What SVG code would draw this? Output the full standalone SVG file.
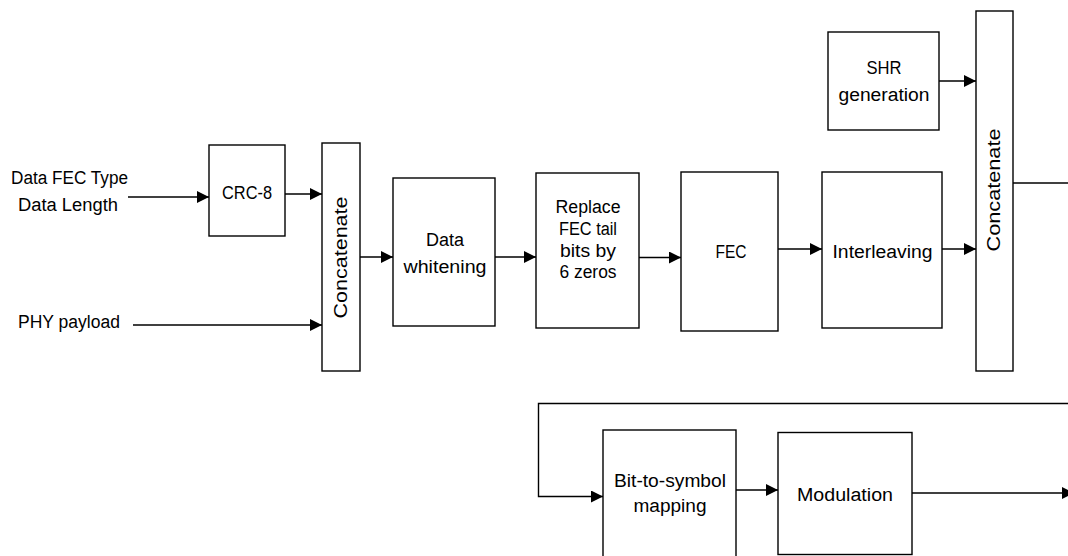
<svg xmlns="http://www.w3.org/2000/svg" width="1068" height="556" viewBox="0 0 1068 556">
<style>
.box{fill:#fff;stroke:#000;stroke-width:1.4}
.c{fill:none;stroke:#000;stroke-width:1.4}
text{font-family:"Liberation Sans",Arial,sans-serif;font-size:18px;fill:#000}
.m{text-anchor:middle}
</style>
<defs>
<marker id="ah" markerUnits="userSpaceOnUse" markerWidth="13" markerHeight="13" refX="12" refY="6" orient="auto">
<path d="M0,0 L12,6 L0,12 Z" fill="#000"/>
</marker>
</defs>
<rect width="1068" height="556" fill="#fff"/>
<g id="inputs">
<text x="11" y="184" textLength="117" lengthAdjust="spacingAndGlyphs">Data FEC Type</text>
<text x="18" y="211" textLength="100" lengthAdjust="spacingAndGlyphs">Data Length</text>
<text x="18" y="328" textLength="102" lengthAdjust="spacingAndGlyphs">PHY payload</text>
</g>
<g id="crc8">
<rect class="box" x="209" y="145" width="76" height="91"/>
<text x="247" y="199" class="m" textLength="50" lengthAdjust="spacingAndGlyphs">CRC-8</text>
</g>
<g id="concat1">
<rect class="box" x="322" y="143" width="38" height="228"/>
<text class="m" transform="translate(346.5,257.5) rotate(-90)" textLength="122" lengthAdjust="spacingAndGlyphs">Concatenate</text>
</g>
<g id="whitening">
<rect class="box" x="393" y="178" width="102" height="148"/>
<text x="445" y="246" class="m" textLength="38" lengthAdjust="spacingAndGlyphs">Data</text>
<text x="445" y="273" class="m" textLength="83" lengthAdjust="spacingAndGlyphs">whitening</text>
</g>
<g id="replace">
<rect class="box" x="536" y="173" width="103" height="155"/>
<text x="588" y="213" class="m" textLength="65" lengthAdjust="spacingAndGlyphs">Replace</text>
<text x="588" y="235" class="m" textLength="58" lengthAdjust="spacingAndGlyphs">FEC tail</text>
<text x="588" y="256.5" class="m" textLength="56" lengthAdjust="spacingAndGlyphs">bits by</text>
<text x="588" y="277.5" class="m" textLength="57" lengthAdjust="spacingAndGlyphs">6 zeros</text>
</g>
<g id="fec">
<rect class="box" x="681" y="172" width="97" height="159"/>
<text x="731" y="258" class="m" textLength="31" lengthAdjust="spacingAndGlyphs">FEC</text>
</g>
<g id="interleaving">
<rect class="box" x="822" y="172" width="120" height="156"/>
<text x="882.5" y="258" class="m" textLength="100" lengthAdjust="spacingAndGlyphs">Interleaving</text>
</g>
<g id="shr">
<rect class="box" x="828" y="32" width="111" height="98"/>
<text x="884" y="74" class="m" textLength="35" lengthAdjust="spacingAndGlyphs">SHR</text>
<text x="884" y="101" class="m" textLength="91" lengthAdjust="spacingAndGlyphs">generation</text>
</g>
<g id="concat2">
<rect class="box" x="976" y="11" width="37" height="360"/>
<text class="m" transform="translate(1000,190) rotate(-90)" textLength="123" lengthAdjust="spacingAndGlyphs">Concatenate</text>
</g>
<g id="bit2sym">
<rect class="box" x="603" y="430" width="133" height="140"/>
<text x="670" y="487" class="m" textLength="112" lengthAdjust="spacingAndGlyphs">Bit-to-symbol</text>
<text x="670" y="512" class="m" textLength="73" lengthAdjust="spacingAndGlyphs">mapping</text>
</g>
<g id="modulation">
<rect class="box" x="778" y="432.5" width="134" height="122"/>
<text x="845" y="500.5" class="m" textLength="96" lengthAdjust="spacingAndGlyphs">Modulation</text>
</g>
<g id="connectors">
<path class="c" d="M128,197 H209" marker-end="url(#ah)"/>
<path class="c" d="M285,194 H322" marker-end="url(#ah)"/>
<path class="c" d="M133,325 H322" marker-end="url(#ah)"/>
<path class="c" d="M360,257 H393" marker-end="url(#ah)"/>
<path class="c" d="M495,257 H536" marker-end="url(#ah)"/>
<path class="c" d="M639,257.5 H681" marker-end="url(#ah)"/>
<path class="c" d="M778,249 H822" marker-end="url(#ah)"/>
<path class="c" d="M942,249 H976" marker-end="url(#ah)"/>
<path class="c" d="M939,81 H976" marker-end="url(#ah)"/>
<path class="c" d="M1013,183 H1068"/>
<path class="c" d="M1068,403.5 H538.5 V496.5 H603" marker-end="url(#ah)"/>
<path class="c" d="M736,490 H778" marker-end="url(#ah)"/>
<path class="c" d="M912,493 H1074" marker-end="url(#ah)"/>
</g>
</svg>
